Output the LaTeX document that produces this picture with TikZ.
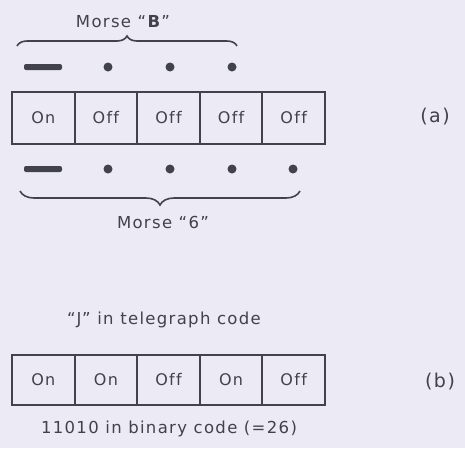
\documentclass[tikz,border=0pt]{standalone}
\usepackage{fontspec}
\setmainfont[LetterSpace=8,Ligatures={NoCommon}]{DejaVu Sans}
\usetikzlibrary{decorations.pathreplacing}
\definecolor{bgc}{RGB}{236,234,244}
\definecolor{ink}{RGB}{66,66,76}
\tikzset{
  cell/.style={draw=ink, line width=2pt, minimum width=62.6pt, minimum height=52pt, inner sep=0pt, text=ink, font=\fontsize{16}{18}\selectfont},
  cellb/.style={cell, minimum height=50pt},
  lbl/.style={text=ink, inner sep=0pt, font=\fontsize{16.5}{18}\selectfont},
  tag/.style={lbl, font=\fontsize{19}{21}\selectfont},
  dashmark/.style={fill=ink, minimum width=38pt, minimum height=6pt, inner sep=0pt, rounded corners=2pt},
  dotmark/.style={circle, fill=ink, minimum size=9pt, inner sep=0pt},
  bracestyle/.style={draw=ink, line width=1.6pt, decorate},
}
\begin{document}
\begin{tikzpicture}[x=1pt,y=-1pt]
\fill[bgc] (0,0) rectangle (465,448);
\useasboundingbox (0,0) rectangle (465,448);
% (a)
\node[lbl] (mB) at (123,22) {Morse “\textbf{B}”};
\coordinate (bl1) at (17,46);
\coordinate (br1) at (237,46);
\draw[bracestyle, decoration={brace, amplitude=10pt}] (bl1) -- (br1);
\node[dashmark] (t1) at (43,67) {};
\node[dotmark] (t2) at (108,67) {};
\node[dotmark] (t3) at (170,67) {};
\node[dotmark] (t4) at (232,67) {};
\node[cell] (a1) at (43.3,118) {On};
\node[cell] (a2) at (105.9,118) {Off};
\node[cell] (a3) at (168.5,118) {Off};
\node[cell] (a4) at (231.1,118) {Off};
\node[cell] (a5) at (293.7,118) {Off};
\node[tag] (la) at (435,117) {(a)};
\node[dashmark] (s1) at (43,169) {};
\node[dotmark] (s2) at (108,169) {};
\node[dotmark] (s3) at (170,169) {};
\node[dotmark] (s4) at (232,169) {};
\node[dotmark] (s5) at (293,169) {};
\coordinate (bl2) at (20,191);
\coordinate (br2) at (300,191);
\draw[bracestyle, decoration={brace, amplitude=14pt}] (br2) -- (bl2);
\node[lbl] (m6) at (163,222) {Morse “6”};
% (b)
\node[lbl] (tj) at (164,320) {“J” in telegraph code};
\node[cellb] (b1) at (43.3,380) {On};
\node[cellb] (b2) at (105.9,380) {On};
\node[cellb] (b3) at (168.5,380) {Off};
\node[cellb] (b4) at (231.1,380) {On};
\node[cellb] (b5) at (293.7,380) {Off};
\node[tag] (lb) at (440,382) {(b)};
\node[lbl] (bin) at (169,429) {11010 in binary code (=26)};
\end{tikzpicture}
\end{document}
